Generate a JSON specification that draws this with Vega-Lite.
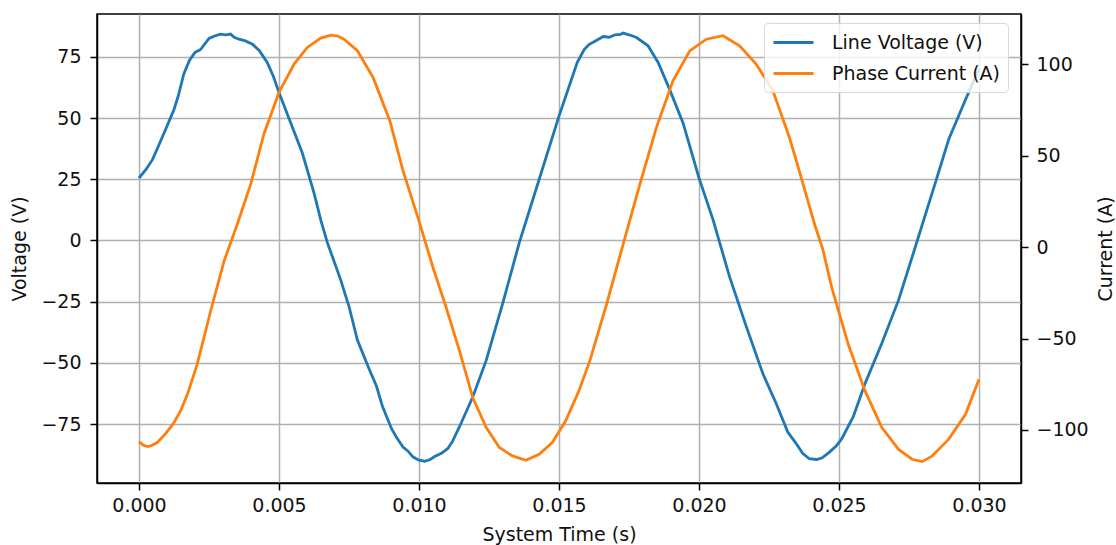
{
  "$schema": "https://vega.github.io/schema/vega-lite/v6.json",
  "width": 924,
  "height": 469,
  "autosize": {"type": "none"},
  "padding": {"left": 97, "top": 14, "right": 95, "bottom": 62},
  "background": "white",
  "config": {
    "view": {"stroke": "black", "strokeWidth": 1.5},
    "font": "DejaVu Sans",
    "axis": {
      "labelFont": "DejaVu Sans", "labelFontSize": 19, "labelColor": "#111111",
      "titleFont": "DejaVu Sans", "titleFontSize": 19, "titleFontWeight": "normal", "titleColor": "#111111",
      "domainColor": "black", "domainWidth": 1.5,
      "tickColor": "black", "tickWidth": 1.5, "tickSize": 7, "labelPadding": 7,
      "gridColor": "#b0b0b0", "gridWidth": 1.5
    },
    "legend": {
      "orient": "none", "legendX": 667, "legendY": 9,
      "symbolType": "M-1,0H3", "symbolSize": 400, "symbolStrokeWidth": 2.8,
      "labelFont": "DejaVu Sans", "labelFontSize": 19, "labelColor": "#111111", "labelLimit": 400,
      "labelOffset": 37, "rowPadding": 9, "padding": 8,
      "fillColor": "rgba(255,255,255,0.8)", "strokeColor": "#d8d8d8", "cornerRadius": 4
    }
  },
  "datasets": {
    "voltage": [
      {"t": 0, "v": 25.5}, {"t": 0.00025, "v": 29}, {"t": 0.00048, "v": 33}, {"t": 0.00075, "v": 40},
      {"t": 0.001, "v": 46.7}, {"t": 0.00125, "v": 53.5}, {"t": 0.0014, "v": 59}, {"t": 0.0016, "v": 68},
      {"t": 0.0018, "v": 73.5}, {"t": 0.002, "v": 76.8}, {"t": 0.0022, "v": 78}, {"t": 0.0025, "v": 82.5},
      {"t": 0.0027, "v": 83.5}, {"t": 0.0029, "v": 84.3}, {"t": 0.0031, "v": 84}, {"t": 0.00327, "v": 84.3},
      {"t": 0.0034, "v": 83}, {"t": 0.00357, "v": 82.2}, {"t": 0.0038, "v": 81.5}, {"t": 0.00405, "v": 80.2},
      {"t": 0.0043, "v": 77.5}, {"t": 0.00458, "v": 72.7}, {"t": 0.0048, "v": 67}, {"t": 0.005, "v": 60.4},
      {"t": 0.00542, "v": 48}, {"t": 0.00583, "v": 35.8}, {"t": 0.00625, "v": 19.4}, {"t": 0.0065, "v": 8},
      {"t": 0.00673, "v": -1}, {"t": 0.0072, "v": -16}, {"t": 0.0075, "v": -27}, {"t": 0.0078, "v": -40.7},
      {"t": 0.0082, "v": -52}, {"t": 0.00848, "v": -59.5}, {"t": 0.0087, "v": -68}, {"t": 0.00902, "v": -76.9},
      {"t": 0.0092, "v": -80.5}, {"t": 0.00943, "v": -84.4}, {"t": 0.0096, "v": -86}, {"t": 0.00979, "v": -88.5},
      {"t": 0.01, "v": -89.8}, {"t": 0.0102, "v": -90.2}, {"t": 0.0104, "v": -89.5}, {"t": 0.01056, "v": -88.3},
      {"t": 0.0108, "v": -87}, {"t": 0.01103, "v": -85}, {"t": 0.0112, "v": -82}, {"t": 0.01145, "v": -76},
      {"t": 0.01192, "v": -64}, {"t": 0.0124, "v": -49}, {"t": 0.01299, "v": -25.7}, {"t": 0.01358, "v": -1},
      {"t": 0.01429, "v": 24.9}, {"t": 0.015, "v": 50.8}, {"t": 0.01565, "v": 72.7}, {"t": 0.0159, "v": 78},
      {"t": 0.01607, "v": 80}, {"t": 0.0163, "v": 81.5}, {"t": 0.01658, "v": 83.3}, {"t": 0.0168, "v": 83},
      {"t": 0.017, "v": 84}, {"t": 0.0172, "v": 84.2}, {"t": 0.01729, "v": 84.7}, {"t": 0.0175, "v": 84},
      {"t": 0.01777, "v": 82.9}, {"t": 0.01818, "v": 79.5}, {"t": 0.01854, "v": 72.7}, {"t": 0.01895, "v": 61.7},
      {"t": 0.01943, "v": 48}, {"t": 0.02, "v": 25.5}, {"t": 0.0205, "v": 8.5}, {"t": 0.02109, "v": -14.8},
      {"t": 0.02169, "v": -35.2}, {"t": 0.02228, "v": -54.4}, {"t": 0.02276, "v": -66.7}, {"t": 0.02317, "v": -78.3},
      {"t": 0.02347, "v": -83}, {"t": 0.0237, "v": -87}, {"t": 0.02394, "v": -89.2}, {"t": 0.0242, "v": -89.5},
      {"t": 0.0244, "v": -88.8}, {"t": 0.02466, "v": -86.5}, {"t": 0.0249, "v": -84}, {"t": 0.0251, "v": -81},
      {"t": 0.02551, "v": -72}, {"t": 0.02593, "v": -58.5}, {"t": 0.02653, "v": -42}, {"t": 0.02713, "v": -24.3},
      {"t": 0.02773, "v": -2.5}, {"t": 0.02844, "v": 23.5}, {"t": 0.02892, "v": 41.3}, {"t": 0.02952, "v": 57.6},
      {"t": 0.03, "v": 70}
    ],
    "current": [
      {"t": 0, "i": -106.4}, {"t": 0.00015, "i": -108.3}, {"t": 0.0003, "i": -109.1}, {"t": 0.00045, "i": -108.5},
      {"t": 0.00065, "i": -106.9}, {"t": 0.00095, "i": -102}, {"t": 0.00125, "i": -96}, {"t": 0.0015, "i": -89},
      {"t": 0.00173, "i": -80.5}, {"t": 0.00208, "i": -64}, {"t": 0.00256, "i": -34.9}, {"t": 0.00304, "i": -7.5},
      {"t": 0.00351, "i": 12.6}, {"t": 0.00399, "i": 34.5}, {"t": 0.00446, "i": 61.8}, {"t": 0.005, "i": 84.7},
      {"t": 0.00554, "i": 100.2}, {"t": 0.00601, "i": 109.3}, {"t": 0.00649, "i": 114.4}, {"t": 0.00685, "i": 116},
      {"t": 0.0071, "i": 115.5}, {"t": 0.00732, "i": 113.8}, {"t": 0.0078, "i": 107.5}, {"t": 0.00836, "i": 92.9},
      {"t": 0.00896, "i": 69.1}, {"t": 0.00943, "i": 41.8}, {"t": 0.01, "i": 14.4}, {"t": 0.0105, "i": -11.1},
      {"t": 0.01097, "i": -33}, {"t": 0.01145, "i": -56.8}, {"t": 0.01192, "i": -82.3}, {"t": 0.0124, "i": -98.7},
      {"t": 0.01287, "i": -109.6}, {"t": 0.01334, "i": -114.2}, {"t": 0.01382, "i": -116.6}, {"t": 0.01429, "i": -113.3},
      {"t": 0.01476, "i": -106.9}, {"t": 0.01524, "i": -95}, {"t": 0.01571, "i": -78.6}, {"t": 0.0161, "i": -62.2},
      {"t": 0.0167, "i": -31.2}, {"t": 0.01729, "i": 1.6}, {"t": 0.01789, "i": 34.5}, {"t": 0.01848, "i": 65.5},
      {"t": 0.01907, "i": 91}, {"t": 0.01967, "i": 107.4}, {"t": 0.02026, "i": 113.8}, {"t": 0.02086, "i": 115.7},
      {"t": 0.02145, "i": 110.2}, {"t": 0.02204, "i": 100.2}, {"t": 0.02264, "i": 85.6}, {"t": 0.02323, "i": 60},
      {"t": 0.02354, "i": 44}, {"t": 0.02382, "i": 29}, {"t": 0.02414, "i": 12}, {"t": 0.02442, "i": -1},
      {"t": 0.02474, "i": -22}, {"t": 0.02533, "i": -53.1}, {"t": 0.02593, "i": -78.6}, {"t": 0.02653, "i": -98.7},
      {"t": 0.02713, "i": -110.6}, {"t": 0.02761, "i": -116}, {"t": 0.02797, "i": -117.3}, {"t": 0.02833, "i": -114.2},
      {"t": 0.02892, "i": -105}, {"t": 0.02952, "i": -91.4}, {"t": 0.03, "i": -72.2}
    ]
  },
  "layer": [
    {
      "data": {"name": "voltage"},
      "mark": {"type": "line", "strokeWidth": 2.8},
      "encoding": {
        "x": {
          "field": "t", "type": "quantitative",
          "scale": {"domain": [-0.0015, 0.0315], "nice": false, "zero": false},
          "axis": {"title": "System Time (s)", "values": [0, 0.005, 0.01, 0.015, 0.02, 0.025, 0.03], "format": ".3f", "grid": true, "labelPadding": 6, "titlePadding": 10}
        },
        "y": {
          "field": "v", "type": "quantitative",
          "scale": {"domain": [-99.1, 92.5], "nice": false, "zero": false},
          "axis": {"title": "Voltage (V)", "orient": "left", "values": [-75, -50, -25, 0, 25, 50, 75], "grid": true, "labelPadding": 9, "titlePadding": 11}
        },
        "color": {
          "datum": "Line Voltage (V)", "type": "nominal",
          "scale": {"domain": ["Line Voltage (V)", "Phase Current (A)"], "range": ["#1f77b4", "#ff7f0e"]},
          "legend": {"title": null}
        }
      }
    },
    {
      "data": {"name": "current"},
      "mark": {"type": "line", "strokeWidth": 2.8},
      "encoding": {
        "x": {"field": "t", "type": "quantitative"},
        "y": {
          "field": "i", "type": "quantitative",
          "scale": {"domain": [-129, 127.6], "nice": false, "zero": false},
          "axis": {"title": "Current (A)", "orient": "right", "values": [-100, -50, 0, 50, 100], "grid": false, "labelPadding": 8, "titlePadding": 8, "titleAngle": 270, "titleBaseline": "top"}
        },
        "color": {"datum": "Phase Current (A)", "type": "nominal"}
      }
    }
  ],
  "resolve": {"scale": {"y": "independent"}, "axis": {"y": "independent"}}
}
